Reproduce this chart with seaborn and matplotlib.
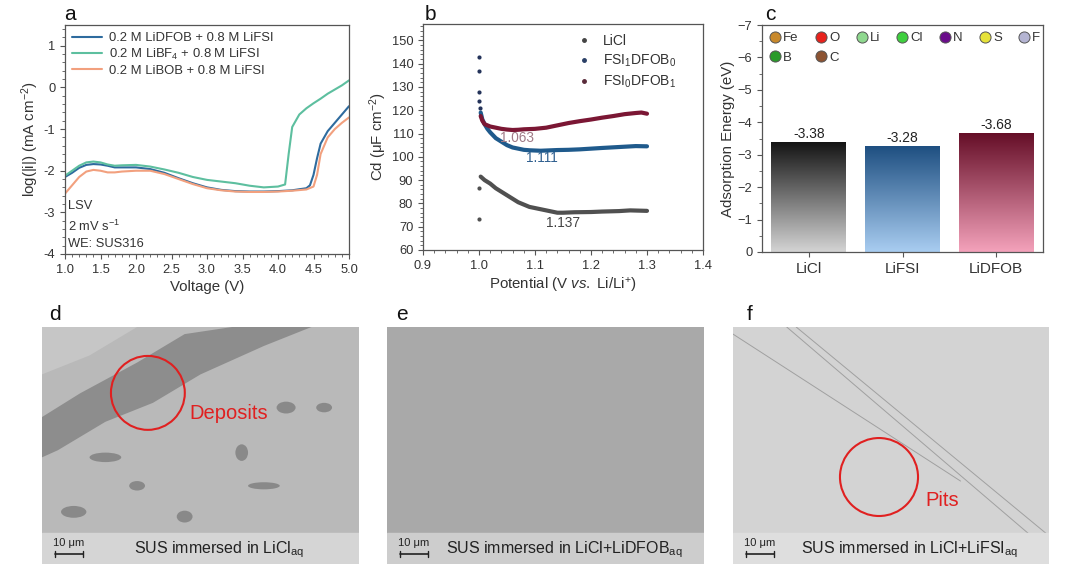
import numpy as np
import pandas as pd
import matplotlib
matplotlib.use("Agg")
import matplotlib.pyplot as plt
import seaborn as sns
from matplotlib.lines import Line2D
from matplotlib.patches import Rectangle, Ellipse, Polygon
from matplotlib.colors import LinearSegmentedColormap

# ---------------- data ----------------
# Panel a: LSV
v_dfob = [1.0,1.1,1.2,1.3,1.4,1.5,1.6,1.7,1.8,2.0,2.2,2.4,2.6,2.8,3.0,3.2,3.4,3.6,3.8,4.0,4.2,4.4,4.45,4.5,4.55,4.6,4.7,4.8,4.9,5.0]
i_dfob = [-2.15,-2.05,-1.93,-1.86,-1.84,-1.85,-1.88,-1.92,-1.92,-1.92,-1.96,-2.05,-2.18,-2.3,-2.4,-2.46,-2.49,-2.5,-2.5,-2.49,-2.47,-2.42,-2.35,-2.1,-1.7,-1.35,-1.05,-0.85,-0.65,-0.45]
v_bf4 = [1.0,1.1,1.2,1.3,1.4,1.5,1.6,1.7,1.8,2.0,2.2,2.4,2.6,2.8,3.0,3.2,3.4,3.6,3.8,4.0,4.1,4.15,4.2,4.3,4.4,4.5,4.6,4.7,4.8,4.9,5.0]
i_bf4 = [-2.12,-2.0,-1.88,-1.8,-1.78,-1.8,-1.85,-1.88,-1.87,-1.86,-1.9,-1.97,-2.05,-2.15,-2.22,-2.26,-2.3,-2.36,-2.4,-2.38,-2.33,-1.6,-0.95,-0.65,-0.5,-0.38,-0.27,-0.15,-0.05,0.05,0.17]
v_bob = [1.0,1.1,1.2,1.3,1.4,1.5,1.6,1.7,1.8,2.0,2.2,2.4,2.6,2.8,3.0,3.2,3.4,3.6,3.8,4.0,4.2,4.4,4.5,4.55,4.6,4.7,4.8,4.9,5.0]
i_bob = [-2.55,-2.35,-2.15,-2.02,-1.98,-2.0,-2.04,-2.04,-2.02,-2.0,-2.0,-2.08,-2.2,-2.32,-2.42,-2.47,-2.5,-2.51,-2.51,-2.5,-2.48,-2.45,-2.38,-2.1,-1.6,-1.2,-1.0,-0.85,-0.72]
lsv_labels = ["0.2 M LiDFOB + 0.8 M LiFSI", "0.2 M LiBF$_4$ + 0.8 M LiFSI", "0.2 M LiBOB + 0.8 M LiFSI"]

# Panel b: double-layer capacitance
p_licl = [1.003,1.01,1.02,1.03,1.04,1.05,1.06,1.07,1.08,1.09,1.10,1.11,1.12,1.13,1.14,1.15,1.17,1.2,1.22,1.25,1.27,1.3]
c_licl = [91.5,90,88.5,86.5,85,83.5,82,80.5,79.5,78.5,78,77.5,77,76.5,76,76,76.2,76.3,76.5,76.7,77,76.8]
p_licl_out = [1.0, 1.0]
c_licl_out = [73.5, 86.5]
p_fsi = [1.003,1.006,1.01,1.015,1.02,1.03,1.04,1.05,1.06,1.07,1.08,1.09,1.1,1.11,1.12,1.14,1.16,1.18,1.2,1.22,1.25,1.28,1.3]
c_fsi = [119,116,114,112,110.5,108,106.5,105,104,103.5,103,102.8,102.7,102.6,102.7,102.9,103,103.2,103.5,103.8,104.2,104.6,104.5]
p_fsi_out = [1.0, 1.0, 1.0, 1.0, 1.001]
c_fsi_out = [143, 137, 128, 124, 121]
p_dfob = [1.003,1.006,1.01,1.02,1.03,1.04,1.05,1.06,1.07,1.08,1.1,1.12,1.14,1.16,1.18,1.2,1.22,1.24,1.26,1.28,1.29,1.3]
c_dfob = [117.5,115.5,114,113,112.5,112,111.7,111.5,111.6,111.8,112,112.5,113.5,114.5,115.3,116,116.8,117.5,118.3,118.8,119,118.5]
cd_labels = ["LiCl", "FSI$_1$DFOB$_0$", "FSI$_0$DFOB$_1$"]
min_pos = [1.137, 1.111, 1.063]

# Panel c: adsorption energies
salts = ["LiCl", "LiFSI", "LiDFOB"]
energies = [-3.38, -3.28, -3.68]
atoms = ["Fe", "B", "O", "C", "Li", "Cl", "N", "S", "F"]
atom_colors = ["#c8892c", "#2a9a2a", "#e8221c", "#8c5332", "#8fd88f", "#3fcf3f", "#6a0d8a", "#e6e23a", "#b4b4d2"]

# Panels d-f captions
sem_captions = ["SUS immersed in LiCl$_{\\mathrm{aq}}$",
                "SUS immersed in LiCl+LiDFOB$_{\\mathrm{aq}}$",
                "SUS immersed in LiCl+LiFSI$_{\\mathrm{aq}}$"]

# ---------------- style ----------------
sns.set_theme(style="ticks")
plt.rcParams["font.family"] = ["Liberation Sans", "DejaVu Sans"]
plt.rcParams["mathtext.fontset"] = "custom"
plt.rcParams["mathtext.rm"] = "Liberation Sans"
plt.rcParams["mathtext.it"] = "Liberation Sans:italic"
plt.rcParams["mathtext.bf"] = "Liberation Sans:bold"
plt.rcParams["axes.edgecolor"] = "#555555"
plt.rcParams["axes.linewidth"] = 0.9
plt.rcParams["xtick.color"] = "#555555"
plt.rcParams["ytick.color"] = "#555555"
plt.rcParams["xtick.labelcolor"] = "#333333"
plt.rcParams["ytick.labelcolor"] = "#333333"
txt = "#333333"

W, H = 1080, 571
fig = plt.figure(figsize=(W / 100, H / 100), dpi=100)

def ax_px(l, t, r, b):
    return fig.add_axes([l / W, 1 - b / H, (r - l) / W, (b - t) / H])

# ---------------- panel a ----------------
axa = ax_px(65, 25, 349, 254)
lsv_cols = ["#2e6b9e", "#5dbf9f", "#f2a07e"]
for (vx, iy, lab, col) in [(v_dfob, i_dfob, lsv_labels[0], lsv_cols[0]),
                           (v_bf4, i_bf4, lsv_labels[1], lsv_cols[1]),
                           (v_bob, i_bob, lsv_labels[2], lsv_cols[2])]:
    sns.lineplot(x=vx, y=iy, ax=axa, color=col, lw=1.5, label=lab)
axa.set_xlim(1.0, 5.0)
axa.set_ylim(-4, 1.5)
axa.set_xticks(np.arange(1.0, 5.01, 0.5))
axa.set_yticks([-4, -3, -2, -1, 0, 1])
axa.set_yticklabels(["-4", "-3", "-2", "-1", "0", "1"])
axa.minorticks_on()
axa.tick_params(which="major", labelsize=9.3, length=3.5, width=0.8)
axa.tick_params(which="minor", length=2, width=0.6)
axa.set_xlabel("Voltage (V)", fontsize=10.8, color=txt, labelpad=3)
axa.set_ylabel("log(|i|) (mA cm$^{-2}$)", fontsize=10.8, color=txt, labelpad=2)
leg = axa.legend(loc="upper left", frameon=False, fontsize=9.4, handlelength=2.3,
                 borderaxespad=0.15, labelspacing=0.2, handletextpad=0.5)
for t in leg.get_texts():
    t.set_color(txt)
axa.text(1.04, -2.85, "LSV", fontsize=9.3, color=txt, va="center")
axa.text(1.04, -3.33, "2 mV s$^{-1}$", fontsize=9.3, color=txt, va="center")
axa.text(1.04, -3.77, "WE: SUS316", fontsize=9.3, color=txt, va="center")

# ---------------- panel b ----------------
axb = ax_px(423, 24, 703, 250)
cd_cols = ["#505050", "#1f5a8c", "#7b1734"]
sns.lineplot(x=p_licl, y=c_licl, ax=axb, color=cd_cols[0], lw=3.0, legend=False)
sns.lineplot(x=p_fsi, y=c_fsi, ax=axb, color=cd_cols[1], lw=3.0, legend=False)
sns.lineplot(x=p_dfob, y=c_dfob, ax=axb, color=cd_cols[2], lw=3.0, legend=False)
sns.scatterplot(x=p_licl_out, y=c_licl_out, ax=axb, color=cd_cols[0], s=9, linewidth=0, legend=False)
sns.scatterplot(x=p_fsi_out, y=c_fsi_out, ax=axb, color="#24335a", s=9, linewidth=0, legend=False)
axb.set_xlim(0.9, 1.4)
axb.set_ylim(60, 157)
axb.set_xticks(np.arange(0.9, 1.41, 0.1))
axb.set_yticks(np.arange(60, 151, 10))
axb.minorticks_on()
axb.tick_params(which="major", labelsize=9.3, length=3.5, width=0.8)
axb.tick_params(which="minor", length=2, width=0.6)
axb.set_xlabel("Potential (V $\\it{vs.}$ Li/Li$^{+}$)", fontsize=10.8, color=txt, labelpad=3)
axb.set_ylabel("Cd (μF cm$^{-2}$)", fontsize=10.8, color=txt, labelpad=2)
handles = [Line2D([], [], ls="none", marker="o", ms=2.5, color=c) for c in ["#444444", "#2a3f66", "#5a2a3a"]]
legb = axb.legend(handles, cd_labels, loc="upper right", frameon=False, fontsize=10,
                  handlelength=1.2, borderaxespad=0.3, labelspacing=0.35, bbox_to_anchor=(0.94, 1.0))
for t in legb.get_texts():
    t.set_color(txt)
axb.text(min_pos[2] + 0.005, 108.0, "1.063", fontsize=9.8, color="#a07a86", ha="center", va="center")
axb.text(min_pos[1] + 0.002, 99.3, "1.111", fontsize=9.8, color="#2f5f8f", ha="center", va="center")
axb.text(min_pos[0] + 0.013, 71.5, "1.137", fontsize=9.8, color="#444444", ha="center", va="center")

# ---------------- panel c ----------------
axc = ax_px(762, 25, 1043, 252)
dfc = pd.DataFrame({"salt": salts, "E": energies})
sns.barplot(data=dfc, x="salt", y="E", ax=axc, width=0.8, color="white", edgecolor="none")
grads = [("#141414", "#d4d4d4"), ("#1d4e80", "#a9cdf1"), ("#640d26", "#f4a2bb")]
for patch, (dark, light), val in zip(axc.patches, grads, energies):
    x0 = patch.get_x()
    w = patch.get_width()
    cmap = LinearSegmentedColormap.from_list("g", [light, dark])
    grad = np.linspace(0, 1, 256).reshape(-1, 1)
    im = axc.imshow(grad, cmap=cmap, aspect="auto", origin="lower",
                    extent=(x0, x0 + w, 0, val), zorder=2)
    im.set_clip_path(patch)
    patch.set_facecolor("none")
for k, val in enumerate(energies):
    axc.text(k, val - 0.03, f"{val:.2f}", ha="center", va="bottom", fontsize=10, color="#222222")
axc.set_xlim(-0.5, 2.5)
axc.set_ylim(0, -7)
axc.set_yticks(np.arange(0, -7.1, -1))
axc.set_yticklabels(["0"] + [f"\u2212{k}" for k in range(1, 8)])
axc.yaxis.set_minor_locator(matplotlib.ticker.MultipleLocator(0.5))
axc.tick_params(which="major", labelsize=9.3, length=3.5, width=0.8)
axc.tick_params(axis="x", labelsize=11)
axc.tick_params(which="minor", length=2, width=0.6)
axc.set_xlabel("")
axc.set_ylabel("Adsorption Energy (eV)", fontsize=10.8, color=txt, labelpad=2)
ah = [Line2D([], [], ls="none", marker="o", ms=8, markerfacecolor=c,
             markeredgecolor="#555555", markeredgewidth=0.7) for c in atom_colors]
legc = axc.legend(ah, atoms, loc="upper left", ncol=7, frameon=False, fontsize=9.5,
                  handlelength=0.9, handletextpad=0.15, columnspacing=1.25,
                  borderaxespad=0.15, labelspacing=0.55)
for t in legc.get_texts():
    t.set_color(txt)

# ---------------- panels d-f (SEM placeholders) ----------------
sem_boxes = [(42, 327, 359, 564), (387, 327, 704, 564), (733, 327, 1049, 564)]
sem_bg = ["#b9b9b9", "#a9a9a9", "#d3d3d3"]
band_bg = ["#d5d5d5", "#cdcdcd", "#dedede"]
sem_axes = []
for box, bg, bb, cap in zip(sem_boxes, sem_bg, band_bg, sem_captions):
    ax = ax_px(*box)
    ax.set_facecolor(bg)
    ax.set_xlim(0, 1)
    ax.set_ylim(0, 1)
    ax.set_xticks([])
    ax.set_yticks([])
    for s in ax.spines.values():
        s.set_visible(False)
    ax.add_patch(Rectangle((0, 0), 1, 0.13, transform=ax.transAxes, color=bb, zorder=3))
    ax.text(0.56, 0.062, cap, transform=ax.transAxes, ha="center", va="center",
            fontsize=11.5, color="#222222", zorder=4)
    ax.plot([0.04, 0.13], [0.042, 0.042], transform=ax.transAxes, color="#222222", lw=1.2, zorder=4)
    ax.plot([0.04, 0.04], [0.030, 0.054], transform=ax.transAxes, color="#222222", lw=1.0, zorder=4)
    ax.plot([0.13, 0.13], [0.030, 0.054], transform=ax.transAxes, color="#222222", lw=1.0, zorder=4)
    ax.text(0.085, 0.088, "10 μm", transform=ax.transAxes, ha="center", va="center",
            fontsize=8, color="#222222", zorder=4)
    sem_axes.append(ax)

axd, axe, axf = sem_axes
# panel d texture: dark deposit band and spots
axd.add_patch(Polygon([[0, 0.62], [0.12, 0.72], [0.3, 0.85], [0.45, 0.97], [0.6, 1.0], [0.85, 1.0],
                       [0.7, 0.92], [0.5, 0.8], [0.35, 0.68], [0.2, 0.6], [0.05, 0.48], [0, 0.45]],
                      closed=True, color="#707070", alpha=0.6, lw=0, zorder=1))
axd.add_patch(Polygon([[0, 1], [0.3, 1], [0.15, 0.88], [0, 0.8]], closed=True,
                      color="#c6c6c6", lw=0, zorder=1))
for (cx, cy, ew, eh) in [(0.77, 0.66, 0.06, 0.05), (0.89, 0.66, 0.05, 0.04), (0.63, 0.47, 0.04, 0.07),
                         (0.3, 0.33, 0.05, 0.04), (0.1, 0.22, 0.08, 0.05), (0.7, 0.33, 0.1, 0.03),
                         (0.45, 0.2, 0.05, 0.05), (0.2, 0.45, 0.1, 0.04)]:
    axd.add_patch(Ellipse((cx, cy), ew, eh, color="#6a6a6a", alpha=0.6, lw=0, zorder=1))
axd.add_patch(Ellipse((0.334, 0.722), 0.233, 0.312, fill=False, ec="#e02020", lw=1.5, zorder=5))
axd.text(0.465, 0.635, "Deposits", fontsize=14.5, color="#e02020", va="center", zorder=5)

# panel f texture: scratches and pits
for (x0, x1, y0, y1) in [(0.17, 0.96, 1.0, 0.1), (0.20, 0.99, 1.0, 0.13), (0.0, 0.72, 0.97, 0.35)]:
    axf.plot([x0, x1], [y0, y1], color="#a0a0a0", lw=0.7, zorder=1)
axf.add_patch(Ellipse((0.462, 0.367), 0.247, 0.329, fill=False, ec="#e02020", lw=1.5, zorder=5))
axf.text(0.608, 0.27, "Pits", fontsize=14.5, color="#e02020", va="center", zorder=5)

# ---------------- panel letters ----------------
for lab, x, y in [("a", 70, 14), ("b", 430, 14), ("c", 770, 14),
                  ("d", 55, 314), ("e", 402, 314), ("f", 750, 314)]:
    fig.text(x / W, 1 - y / H, lab, fontsize=15, ha="center", va="center", color="#111111")

fig.savefig("out.png", dpi=100)
